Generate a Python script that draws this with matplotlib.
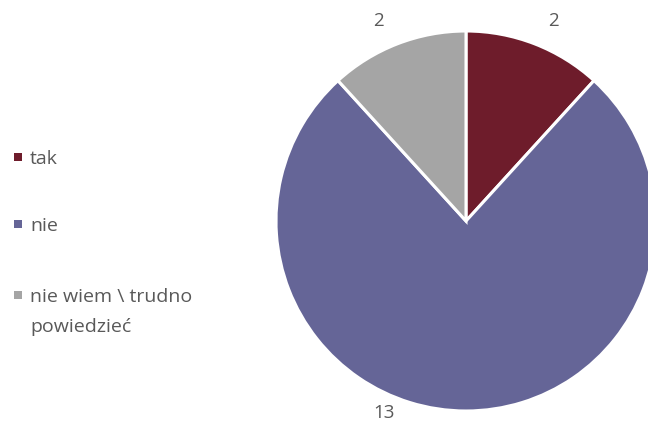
import numpy as np
import matplotlib
matplotlib.use("Agg")
import matplotlib.pyplot as plt
from matplotlib.patches import Rectangle

labels = ["tak", "nie", "nie wiem \\ trudno\npowiedzieć"]
values = [2, 13, 2]
colors = ["#6E1C2B", "#656597", "#A5A5A5"]

plt.rcParams['font.family'] = ['Open Sans', 'DejaVu Sans']
text_color = "#595959"
W, H = 648, 424

fig = plt.figure(figsize=(6.48, 4.24), dpi=100)
ax = fig.add_axes([276/W, 13/H, 380/W, 380/H])

wedges, _ = ax.pie(values, colors=colors, startangle=90, counterclock=False,
                   radius=1.0,
                   wedgeprops=dict(edgecolor="white", linewidth=2.2))
ax.set_xlim(-1, 1)
ax.set_ylim(-1, 1)
ax.set_aspect("equal")
ax.axis("off")

# value labels just outside each slice
offsets = [-2.5, -23, 2.5]
radii = [1.15, 1.1, 1.15]
for w, v, off, r in zip(wedges, values, offsets, radii):
    ang = np.deg2rad((w.theta1 + w.theta2) / 2 + off)
    ax.text(r*np.cos(ang), r*np.sin(ang), str(v), ha="center", va="center",
            fontsize=13.5, color=text_color, clip_on=False)

# legend on the left, square aligned with first line of each entry
leg_y = [157, 224, 295]   # pixel rows from top
line_gap = 30
for lab, c, y in zip(labels, colors, leg_y):
    fig.patches.append(Rectangle((14/W, 1 - (y + 4)/H), 8/W, 8/H,
                                 transform=fig.transFigure, facecolor=c,
                                 edgecolor="none"))
    for i, line in enumerate(lab.split("\n")):
        fig.text(30/W, 1 - (y + i*line_gap)/H, line, ha="left",
                 va="center_baseline", fontsize=14, color=text_color)

fig.savefig("out.png", dpi=100)
